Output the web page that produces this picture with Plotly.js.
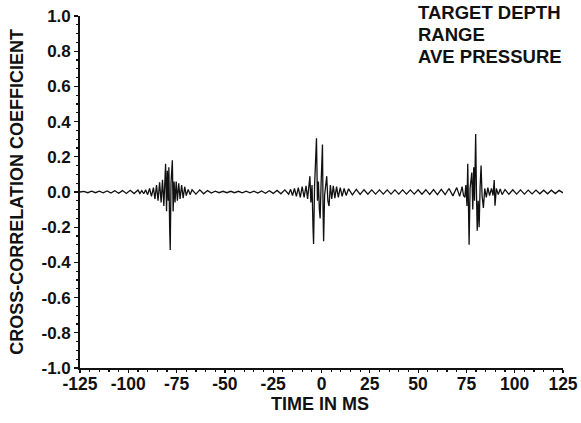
<!DOCTYPE html>
<html>
<head>
<meta charset="utf-8">
<script src="https://cdn.plot.ly/plotly-3.0.1.min.js"></script>
<style>html,body{margin:0;padding:0;background:#fff;}#chart{width:581px;height:423px;}</style>
</head>
<body>
<div id="chart"></div>
<script>
// Segment A: quiet lead-in
const timeA = [-125,-123,-121,-119,-117,-115,-113,-111,-109,-107,-105,-103,-101,-99,-97,-95];
const valA  = [0,0.004,-0.004,0.005,-0.004,0.005,-0.005,0.006,-0.006,0.007,-0.007,0.008,-0.008,0.01,-0.009,0.011];
// Segment B: burst near -78 ms
const timeB = [-94,-93,-92,-91,-90,-89,-88,-87,-86.2,-85.4,-84.6,-83.8,-83,-82.3,-81.6,-81.1,-80.7,-80.2,-79.8,-79.3,-79,-78.6,-78.3,-77.9,-77.5,-77.2,-76.8,-76.3,-75.8,-75.2,-74.6,-73.9,-73.2,-72.4,-71.6,-70.8,-70,-69,-68,-67];
const valB  = [-0.008,0.008,-0.01,0.012,-0.015,0.02,-0.025,0.025,-0.04,0.04,-0.05,0.055,-0.06,0.07,-0.08,0.06,0.16,-0.11,0.12,-0.05,0.14,-0.2,-0.33,0.05,0.15,0.18,-0.11,0.06,-0.06,0.06,-0.05,0.05,-0.04,0.04,-0.035,0.03,-0.02,0.015,-0.015,0.013];
// Segment C: quiet between -65 and -17 ms
const timeC = [-65,-63,-61,-59,-57,-55,-53,-51,-49,-47,-45,-43,-41,-39,-37,-35,-33,-31,-29,-27,-25,-23,-21,-19,-17];
const valC  = [-0.012,0.012,-0.01,0.008,-0.006,0.005,-0.004,0.004,-0.004,0.004,-0.004,0.004,-0.005,0.005,-0.005,0.005,-0.006,0.006,-0.007,0.007,-0.008,0.009,-0.01,0.012,-0.013];
// Segment D: burst near 0 ms
const timeD = [-16,-15,-14,-13,-12,-11,-10,-9,-8,-7.2,-6.5,-6,-5.5,-4.9,-4.4,-4.1,-3.6,-3,-2.6,-2.1,-1.6,-1.1,-0.7,-0.2,0.2,0.5,0.8,1.1,1.6,2.2,2.7,3.3,3.9,4.6,5.3,6.1,6.9,7.8,8.7,9.7,10.7,11.7,12.8];
const valD  = [0.015,-0.02,0.02,-0.025,0.025,-0.03,0.03,-0.03,0.035,-0.04,0.05,0.09,-0.06,0.04,-0.2,-0.295,0.03,0.2,0.305,-0.05,0.06,-0.1,-0.15,0.05,0.2,0.27,-0.1,-0.28,-0.02,0.06,0.09,-0.05,-0.08,0.04,-0.04,0.035,-0.035,0.03,-0.03,0.025,-0.025,0.02,-0.02];
// Segment E: ripple between 14 and 62 ms
const timeE = [14,16,18,20,22,24,26,28,30,32,34,36,38,40,42,44,46,48,50,52,54,56,58,60,62];
const valE  = [0.018,-0.016,0.015,-0.014,0.013,-0.013,0.012,-0.012,0.012,-0.012,0.012,-0.012,0.012,-0.012,0.012,-0.012,0.012,-0.012,0.013,-0.013,0.013,-0.014,0.014,-0.015,0.015];
// Segment F: burst near 78 ms
const timeF = [64,66,68,70,71.5,72.8,73.5,74.2,74.7,75.3,75.7,76.1,76.4,76.9,77.4,77.8,78.3,78.8,79.2,79.8,80.2,80.6,81.1,81.6,82.1,82.6,83.1,83.8,84.5,85.3,86.1,87,88,88.8,89.4,89.8,90.5,91.5,92.5,93.5];
const valF  = [-0.015,0.02,-0.022,0.025,-0.025,0.03,-0.02,-0.03,0.04,-0.08,0.16,-0.1,-0.30,0.02,0.08,0.11,-0.1,0.14,-0.05,0.33,0.0,-0.22,-0.05,-0.2,0.03,0.15,-0.02,-0.09,0.02,-0.03,0.025,-0.02,0.02,-0.02,0.068,-0.078,0.02,-0.015,0.018,-0.015];
// Segment G: tail ripple
const timeG = [95,97,99,101,103,105,107,109,111,113,115,117,119,121,123,125];
const valG  = [0.014,-0.013,0.013,-0.012,0.012,-0.012,0.011,-0.011,0.011,-0.01,0.01,-0.01,0.01,-0.009,0.009,-0.005];

const xTickVals = [-125,-100,-75,-50,-25,0,25,50,75,100,125];
const xTickText = ["-125","-100","-75","-50","-25","0","25","50","75","100","125"];
const yTickVals = [1.0,0.8,0.6,0.4,0.2,0.0,-0.2,-0.4,-0.6,-0.8,-1.0];
const yTickText = ["1.0","0.8","0.6","0.4","0.2","0.0","-0.2","-0.4","-0.6","-0.8","-1.0"];
const legendLines = ["TARGET DEPTH","RANGE","AVE PRESSURE"];
const xTitle = "TIME IN MS";
const yTitle = "CROSS-CORRELATION COEFFICIENT";

const t = [].concat(timeA,timeB,timeC,timeD,timeE,timeF,timeG);
const v = [].concat(valA,valB,valC,valD,valE,valF,valG);

const F = 'Liberation Sans, Arial, Helvetica, sans-serif';
const trace = {x:t, y:v, type:'scatter', mode:'lines', line:{color:'#111', width:1.3}, hoverinfo:'skip'};

const legendY = [1.011, 0.947, 0.886];
const annotations = legendLines.map((s,i)=>({
  xref:'paper', yref:'paper', x:0.696, y:legendY[i], xanchor:'left', yanchor:'middle', align:'left',
  text:s, showarrow:false, font:{family:F, size:18.5, weight:'bold', color:'#111'}
}));
annotations.push({
  xref:'paper', yref:'paper', x:0.497, y:-0.103, xanchor:'center', yanchor:'middle',
  text:xTitle, showarrow:false, font:{family:F, size:18, weight:'bold', color:'#111'}
});
annotations.push({
  xref:'paper', yref:'paper', x:-0.131, y:0.5, xanchor:'center', yanchor:'middle', textangle:-90,
  text:yTitle, showarrow:false, font:{family:F, size:18, weight:'bold', color:'#111'}
});

const layout = {
  width:581, height:423,
  margin:{l:80, r:18, t:16, b:55},
  paper_bgcolor:'#fff', plot_bgcolor:'#fff',
  showlegend:false,
  xaxis:{
    range:[-125,125], tickmode:'array', tickvals:xTickVals, ticktext:xTickText,
    showgrid:false, zeroline:false, showline:true, linecolor:'#111', linewidth:1.8,
    ticks:'outside', ticklen:3, tickwidth:1.2, tickcolor:'#111', ticklabelstandoff:-4,
    minor:{tickmode:'linear', tick0:-125, dtick:5, ticks:'outside', ticklen:2, tickcolor:'#111', showgrid:false},
    tickfont:{family:F, size:17.5, weight:'bold', color:'#111'}
  },
  yaxis:{
    range:[-1,1], tickmode:'array', tickvals:yTickVals, ticktext:yTickText,
    showgrid:false, zeroline:false, showline:true, linecolor:'#111', linewidth:1.8,
    ticks:'outside', ticklen:4, tickwidth:1.2, tickcolor:'#111',
    minor:{tickmode:'linear', tick0:-1, dtick:0.05, ticks:'outside', ticklen:2, tickcolor:'#111', showgrid:false},
    tickfont:{family:F, size:17, weight:'bold', color:'#111'}
  },
  annotations:annotations
};

Plotly.newPlot('chart',[trace],layout,{displayModeBar:false, staticPlot:true});
</script>
</body>
</html>
